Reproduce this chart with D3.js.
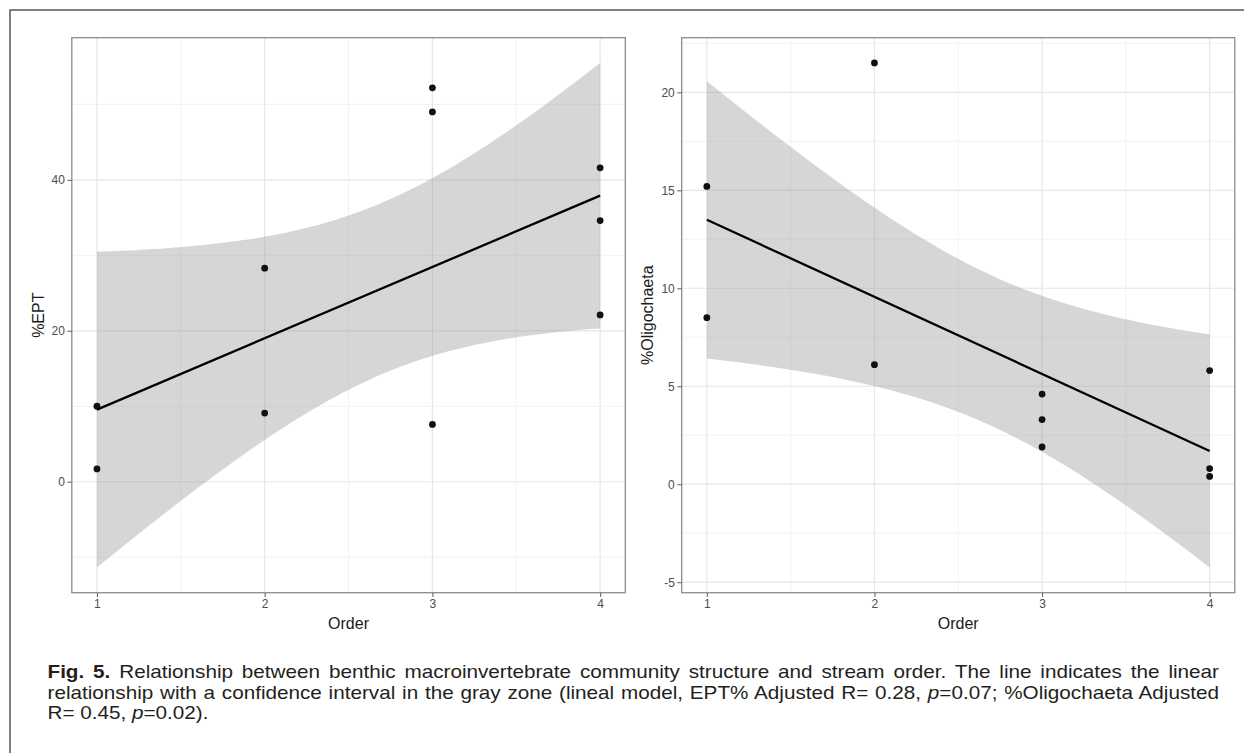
<!DOCTYPE html>
<html>
<head>
<meta charset="utf-8">
<script src="https://cdn.jsdelivr.net/npm/d3@7"></script>
<style>
  html, body { margin: 0; padding: 0; background: #fff; }
  svg { display: block; font-family: "Liberation Sans", Arial, Helvetica, sans-serif; }
</style>
</head>
<body>
<svg id="chart" width="1244" height="753"></svg>
<script>
// ---- data ----
const orders      = [1, 1, 2, 2, 3, 3, 3, 4, 4, 4];
const eptValues   = [10.0, 1.7, 28.3, 9.1, 52.2, 49.0, 7.6, 41.6, 34.6, 22.1];
const oligoValues = [15.2, 8.5, 21.5, 6.1, 4.6, 3.3, 1.9, 5.8, 0.8, 0.4];
const xTicks      = [1, 2, 3, 4];
const xMinor      = [1.5, 2.5, 3.5];
const eptTicks    = [0, 20, 40];
const eptMinor    = [-10, 10, 30, 50];
const oligoTicks  = [-5, 0, 5, 10, 15, 20];
const oligoMinor  = [-2.5, 2.5, 7.5, 12.5, 17.5, 22.5];
const tCrit95df8  = 2.306;   // t quantile for the 95% confidence band (n = 10)
const xLabel = "Order";
const captionLines = [
  [{t: "Fig. 5.", b: true}, {t: " Relationship between benthic macroinvertebrate community structure and stream order. The line indicates the linear"}],
  [{t: "relationship with a confidence interval in the gray zone (lineal model, EPT% Adjusted R= 0.28, "}, {t: "p", i: true}, {t: "=0.07; %Oligochaeta Adjusted"}],
  [{t: "R= 0.45, "}, {t: "p", i: true}, {t: "=0.02)."}]
];

const svg = d3.select("#chart");

// outer frame
svg.append("rect").attr("x", 10).attr("y", 10).attr("width", 1250).attr("height", 760)
  .attr("fill", "none").attr("stroke", "#4a4a4a").attr("stroke-width", 1.4);

function linearFit(xs, ys) {
  const n = xs.length;
  const mx = d3.mean(xs), my = d3.mean(ys);
  const sxx = d3.sum(xs, x => (x - mx) ** 2);
  const sxy = d3.sum(xs.map((x, i) => (x - mx) * (ys[i] - my)));
  const slope = sxy / sxx, icpt = my - slope * mx;
  const rss = d3.sum(xs.map((x, i) => (ys[i] - (icpt + slope * x)) ** 2));
  const s = Math.sqrt(rss / (n - 2));
  return x => {
    const fit = icpt + slope * x;
    const se = s * Math.sqrt(1 / n + (x - mx) ** 2 / sxx);
    return {x, fit, lo: fit - tCrit95df8 * se, hi: fit + tCrit95df8 * se};
  };
}

function panel(opts) {
  const {left, right, top, bottom, ys, ticks, minor, title, titleX} = opts;
  const g = svg.append("g");
  const model = linearFit(orders, ys);
  const band = d3.range(0, 81).map(k => model(1 + 3 * k / 80));

  const x = d3.scaleLinear().domain([0.85, 4.15]).range([left, right]);
  const lo = Math.min(d3.min(ys), d3.min(band, d => d.lo));
  const hi = Math.max(d3.max(ys), d3.max(band, d => d.hi));
  const pad = (hi - lo) * 0.05;
  const y = d3.scaleLinear().domain([lo - pad, hi + pad]).range([bottom, top]);

  // grid
  g.selectAll(".gminy").data(minor).join("line")
    .attr("x1", left).attr("x2", right).attr("y1", d => y(d)).attr("y2", d => y(d))
    .attr("stroke", "#f2f2f2").attr("stroke-width", 1);
  g.selectAll(".gminx").data(xMinor).join("line")
    .attr("y1", top).attr("y2", bottom).attr("x1", d => x(d)).attr("x2", d => x(d))
    .attr("stroke", "#f2f2f2").attr("stroke-width", 1);
  g.selectAll(".gmajy").data(ticks).join("line")
    .attr("x1", left).attr("x2", right).attr("y1", d => y(d)).attr("y2", d => y(d))
    .attr("stroke", "#e6e6e6").attr("stroke-width", 1.2);
  g.selectAll(".gmajx").data(xTicks).join("line")
    .attr("y1", top).attr("y2", bottom).attr("x1", d => x(d)).attr("x2", d => x(d))
    .attr("stroke", "#e6e6e6").attr("stroke-width", 1.2);

  // ribbon
  g.append("path").datum(band)
    .attr("d", d3.area().x(d => x(d.x)).y0(d => y(d.lo)).y1(d => y(d.hi)))
    .attr("fill", "#999999").attr("fill-opacity", 0.4);

  // points
  g.selectAll(".pt").data(ys).join("circle")
    .attr("cx", (d, i) => x(orders[i])).attr("cy", d => y(d)).attr("r", 3.4)
    .attr("fill", "#111");

  // fit line
  g.append("path").datum([model(1), model(4)])
    .attr("d", d3.line().x(d => x(d.x)).y(d => y(d.fit)))
    .attr("fill", "none").attr("stroke", "#000").attr("stroke-width", 2.3);

  // panel border
  g.append("rect").attr("x", left).attr("y", top).attr("width", right - left).attr("height", bottom - top)
    .attr("fill", "none").attr("stroke", "#8c8c8c").attr("stroke-width", 1.3);

  // axes
  const fmt = d => String(d);
  const yAxis = d3.axisLeft(y).tickValues(ticks).tickFormat(fmt).tickSize(4.4).tickPadding(2.5);
  const ga = g.append("g").attr("transform", `translate(${left},0)`).call(yAxis);
  const xAxis = d3.axisBottom(x).tickValues(xTicks).tickFormat(fmt).tickSize(4.4).tickPadding(2.5);
  const gx = g.append("g").attr("transform", `translate(0,${bottom})`).call(xAxis);
  [ga, gx].forEach(a => {
    a.select(".domain").remove();
    a.selectAll(".tick line").attr("stroke", "#6b6b6b").attr("stroke-width", 1.1);
    a.selectAll(".tick text").attr("fill", "#4d4d4d").attr("font-size", 12)
      .attr("font-family", "'Liberation Sans', Arial, sans-serif");
  });

  // titles
  g.append("text").attr("x", (left + right) / 2).attr("y", 628.5)
    .attr("text-anchor", "middle").attr("font-size", 16).attr("fill", "#1a1a1a").text(xLabel);
  g.append("text").attr("transform", `translate(${titleX},${(top + bottom) / 2}) rotate(-90)`)
    .attr("text-anchor", "middle").attr("dy", "0.36em").attr("font-size", 16).attr("fill", "#1a1a1a").text(title);
}

panel({left: 71.8, right: 625.3, top: 37.7, bottom: 592.7, ys: eptValues,
       ticks: eptTicks, minor: eptMinor, title: "%EPT", titleX: 38});
panel({left: 681.7, right: 1234.8, top: 37.7, bottom: 592.7, ys: oligoValues,
       ticks: oligoTicks, minor: oligoMinor, title: "%Oligochaeta", titleX: 647});

// caption (first two lines justified; glyphs slightly wide as in the scan)
const capX = 47.5, capRight = 1219, capBase = [678, 698.5, 719], stretch = 1.15;
captionLines.forEach((parts, li) => {
  const t = svg.append("text").attr("x", 0).attr("y", 0)
    .attr("transform", `translate(${capX},${capBase[li]}) scale(${stretch},1)`)
    .attr("font-size", 18).attr("fill", "#231f20").attr("xml:space", "preserve");
  parts.forEach(p => {
    t.append("tspan").text(p.t)
      .attr("font-weight", p.b ? "bold" : null)
      .attr("font-style", p.i ? "italic" : null);
  });
  if (li < 2) {
    const natural = t.node().getComputedTextLength();
    const full = parts.map(p => p.t).join("");
    const spaces = (full.match(/ /g) || []).length;
    const extra = ((capRight - capX) / stretch - natural) / spaces;
    t.attr("word-spacing", extra);
  }
});
</script>
</body>
</html>
